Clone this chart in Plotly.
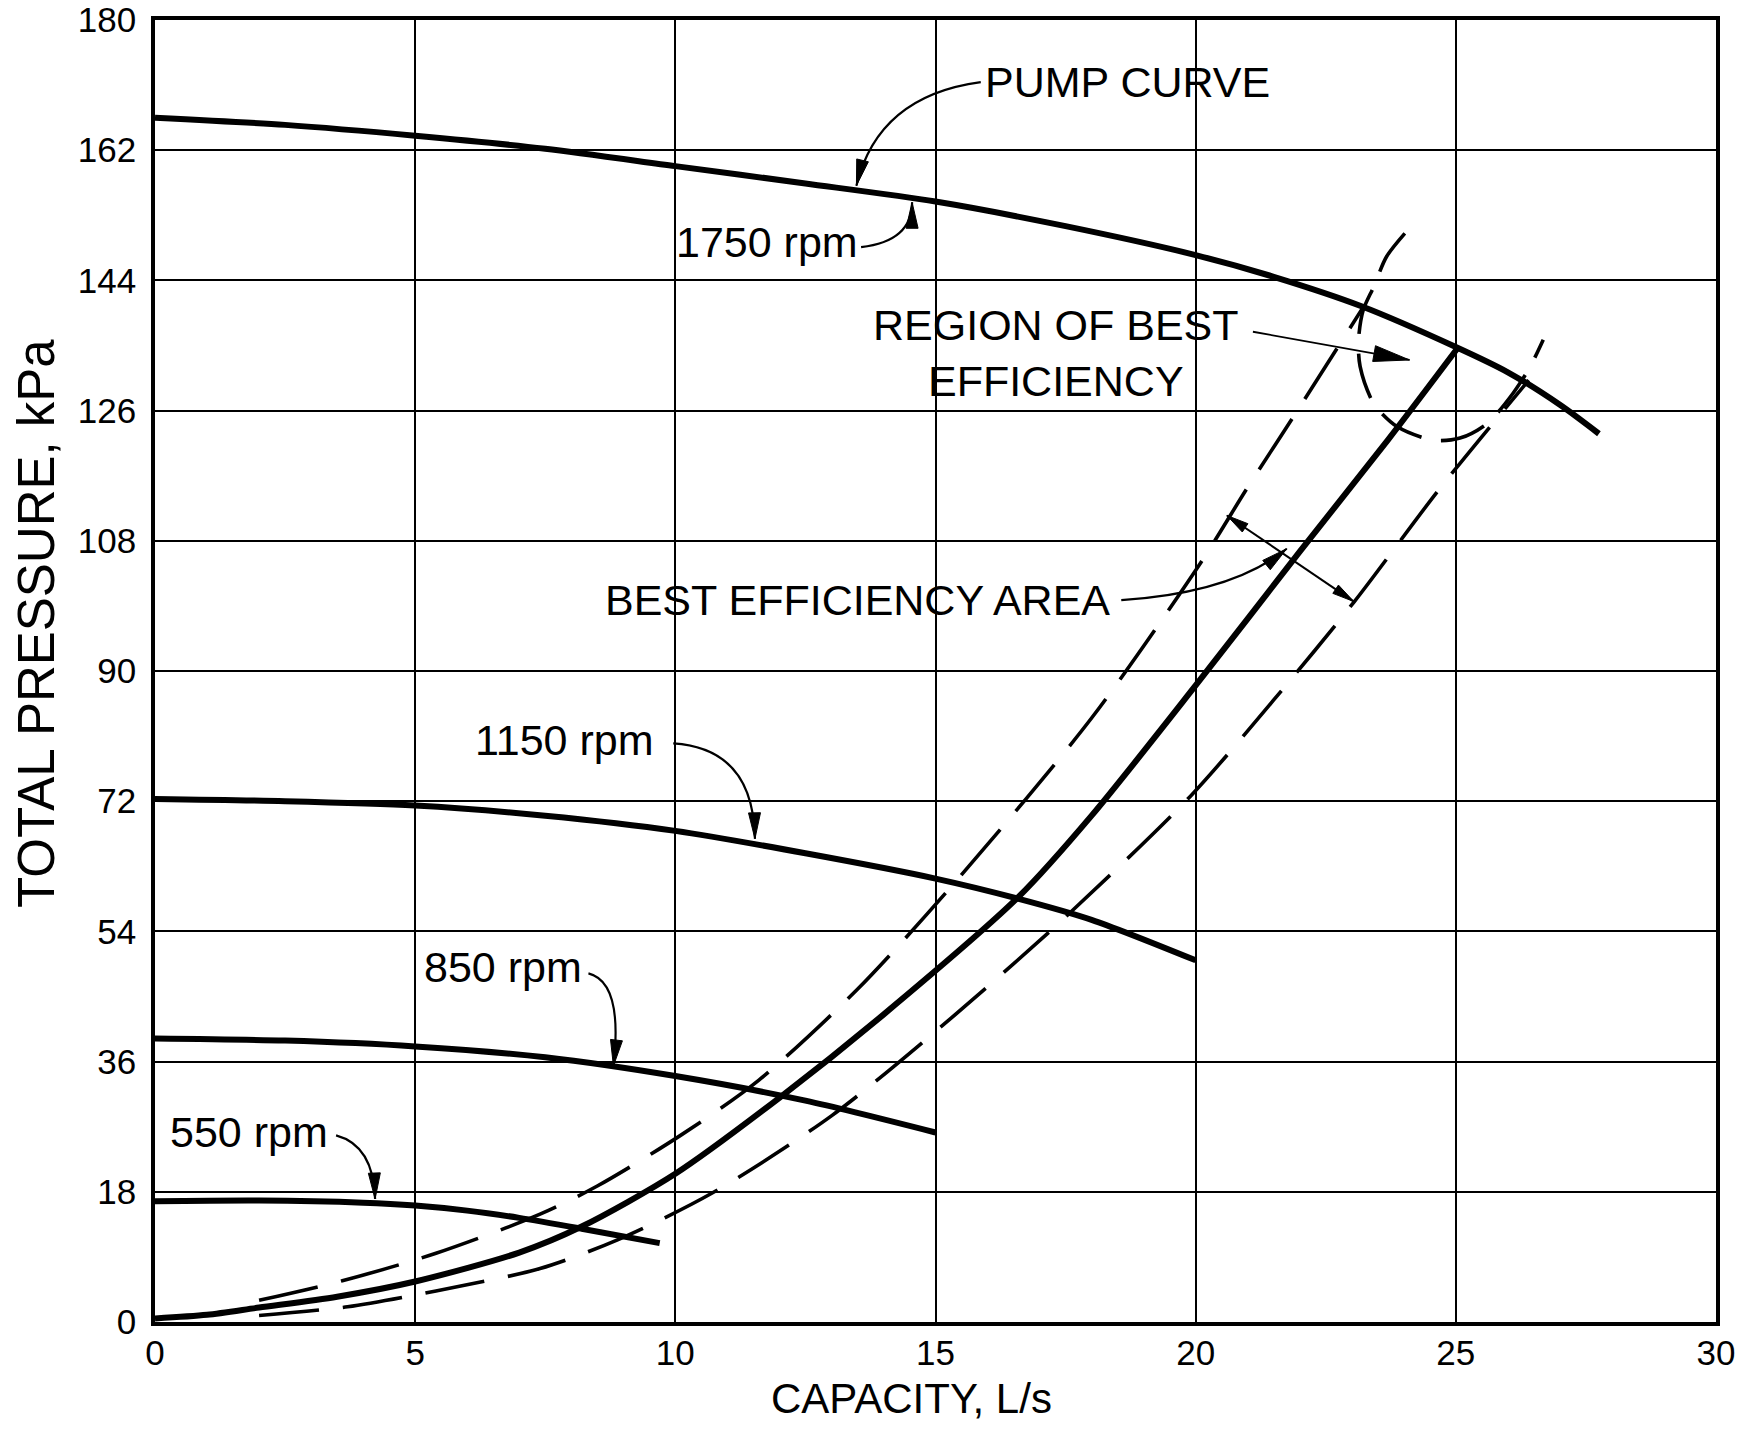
import math
import plotly.graph_objects as go

# ---------------- data ----------------
pump1750_q = [0, 2.5, 5, 7.5, 10, 12.5, 15, 17.5, 20, 21.5, 23.2, 25, 26, 27, 27.75]
pump1750_p = [166.5, 165.5, 164.0, 162.2, 159.8, 157.4, 154.9, 151.5, 147.5, 144.5, 140.4, 134.8, 131.3, 126.8, 122.8]

pump1150_q = [0, 2.5, 5, 7.5, 10, 12.5, 15, 16.6, 18, 20]
pump1150_p = [72.3, 72.0, 71.4, 70.0, 67.9, 64.8, 61.3, 58.5, 55.6, 50.0]

pump850_q = [0, 2.5, 5, 7.5, 10, 12.5, 15]
pump850_p = [39.2, 38.9, 38.1, 36.6, 34.0, 30.6, 26.2]

pump550_q = [0, 2, 4, 5, 6, 7, 8.2, 9.7]
pump550_p = [16.7, 16.8, 16.5, 16.1, 15.4, 14.4, 12.9, 10.9]

system_q = [0, 1, 2, 3.5, 5, 7, 8.2, 10, 12, 14, 16.6, 18, 20, 22, 23.7, 25.05]
system_p = [0.5, 1.0, 2.0, 3.5, 5.6, 9.6, 13.2, 20.5, 31.0, 42.5, 58.8, 70.0, 88.0, 106.5, 122.0, 134.8]

upper_q = [2, 3.6, 5.4, 7.4, 8.5, 10.1, 11.6, 13.5, 15.4, 18, 20.1, 21.0, 22.0, 23.22]
upper_p = [3.0, 5.7, 9.5, 14.9, 18.8, 25.8, 33.4, 46.0, 61.0, 83.5, 105.0, 115.4, 126.5, 140.3]

lower_q = [2, 3.7, 5.4, 7.4, 8.9, 10.7, 13.0, 15.3, 17.5, 19.9, 21.5, 23.05, 24.7, 26.4]
lower_p = [0.9, 2.1, 4.3, 7.4, 11.4, 17.8, 28.5, 42.0, 56.0, 72.7, 86.0, 99.6, 115.3, 130.2]

region_q = [24.02, 23.67, 23.42, 23.22, 23.13, 23.16, 23.42, 23.87, 24.57, 25.08, 25.6, 26.1, 26.43, 26.68]
region_p = [150.5, 147.3, 143.1, 139.9, 135.8, 132.1, 127.0, 123.8, 121.9, 122.2, 124.2, 128.4, 132.1, 135.8]

x_ticks = [0, 5, 10, 15, 20, 25, 30]
y_ticks = [0, 18, 36, 54, 72, 90, 108, 126, 144, 162, 180]

# ---------------- geometry ----------------
W, H = 1747, 1434
OFF = 8                      # page body margin of the html page
REF_L, REF_R, REF_T, REF_B = 155, 1716, 20, 1322   # plot box in the picture
ML, MT = REF_L - OFF, REF_T - OFF
MR, MB = OFF + W - REF_R, OFF + H - REF_B
PW, PH = W - ML - MR, H - MT - MB
XMAX, YMAX = 30, 180
SX, SY = PW / XMAX, PH / YMAX
FONT = "Liberation Sans, Arial, Helvetica, sans-serif"

fig = go.Figure()

def curve(q, p, width, dash="solid"):
    fig.add_trace(go.Scatter(x=q, y=p, mode="lines", showlegend=False, hoverinfo="skip",
                             line=dict(color="black", width=width, dash=dash,
                                       shape="spline", smoothing=0.8)))

curve(pump1750_q, pump1750_p, 6)
curve(pump1150_q, pump1150_p, 6)
curve(pump850_q, pump850_p, 6)
curve(pump550_q, pump550_p, 6)
curve(system_q, system_p, 6)
curve(upper_q, upper_p, 3.6, "60px,24px")
curve(lower_q, lower_p, 3.6, "60px,24px")
curve(region_q, region_p, 3.6, "46px,20px")

shapes = []
annotations = []

def head(tip, frm, L=26, hw=6):
    dx = (tip[0] - frm[0]) * SX
    dy = (tip[1] - frm[1]) * SY
    n = math.hypot(dx, dy)
    ux, uy = dx / n, dy / n
    bx, by = -ux * L, -uy * L
    px, py = -uy, ux
    p1 = (tip[0] + (bx + px * hw) / SX, tip[1] + (by + py * hw) / SY)
    p2 = (tip[0] + (bx - px * hw) / SX, tip[1] + (by - py * hw) / SY)
    shapes.append(dict(type="path", xref="x", yref="y", layer="above",
                       path=f"M {tip[0]},{tip[1]} L {p1[0]},{p1[1]} L {p2[0]},{p2[1]} Z",
                       fillcolor="black", line=dict(color="black", width=1)))

def curved_arrow(start, ctrl, tip):
    shapes.append(dict(type="path", xref="x", yref="y", layer="above",
                       path=f"M {start[0]},{start[1]} Q {ctrl[0]},{ctrl[1]} {tip[0]},{tip[1]}",
                       line=dict(color="black", width=2.2)))
    head(tip, ctrl)

def straight_arrow(start, tip, L=26, hw=6, width=2):
    shapes.append(dict(type="line", xref="x", yref="y", layer="above",
                       x0=start[0], y0=start[1], x1=tip[0], y1=tip[1],
                       line=dict(color="black", width=width)))
    head(tip, start, L, hw)

def label(text, x, y):
    annotations.append(dict(text=text, x=x, y=y, xref="x", yref="y", showarrow=False,
                            xanchor="center", yanchor="middle",
                            font=dict(family=FONT, size=43, color="black")))

label("PUMP CURVE", 18.69, 171.4)
curved_arrow((15.87, 171.4), (13.9, 169.5), (13.48, 157.1))

label("1750 rpm", 11.77, 149.3)
curved_arrow((13.57, 148.6), (14.55, 149.4), (14.55, 154.8))

label("REGION OF BEST<br>EFFICIENCY", 17.32, 134.0)
straight_arrow((21.1, 136.9), (24.11, 133.0), L=36, hw=8, width=1.8)

label("BEST EFFICIENCY AREA", 13.51, 99.8)
curved_arrow((18.57, 99.8), (20.7, 100.8), (21.75, 106.9))

# bracket across the best-efficiency band
b_up, b_lo = (20.6, 111.5), (23.04, 99.6)
shapes.append(dict(type="line", xref="x", yref="y", layer="above",
                   x0=b_up[0], y0=b_up[1], x1=b_lo[0], y1=b_lo[1],
                   line=dict(color="black", width=2)))
head(b_up, b_lo, L=22, hw=5)
head(b_lo, b_up, L=22, hw=5)

label("1150 rpm", 7.86, 80.5)
curved_arrow((9.96, 80.0), (11.5, 79.3), (11.53, 66.8))

label("850 rpm", 6.69, 49.1)
curved_arrow((8.33, 48.2), (9.0, 47.0), (8.81, 35.4))

label("550 rpm", 1.8, 26.2)
curved_arrow((3.48, 25.8), (4.2, 24.4), (4.23, 17.0))

# axis titles
annotations.append(dict(text="CAPACITY, L/s", xref="paper", yref="paper",
                        x=(911 - REF_L) / PW, y=(REF_B - 1398) / PH, showarrow=False,
                        xanchor="center", yanchor="middle",
                        font=dict(family=FONT, size=42, color="black")))
annotations.append(dict(text="TOTAL PRESSURE, kPa", xref="paper", yref="paper",
                        x=(37 - REF_L) / PW, y=(REF_B - 624) / PH, showarrow=False,
                        textangle=-90, xanchor="center", yanchor="middle",
                        font=dict(family=FONT, size=51, color="black")))

axis_common = dict(showgrid=True, gridcolor="black", gridwidth=2, zeroline=False,
                   showline=True, linecolor="black", linewidth=3.5, mirror=True,
                   ticks="", ticklabeloverflow="allow",
                   tickfont=dict(family=FONT, size=35, color="black"))

fig.update_layout(
    width=W, height=H,
    margin=dict(l=ML, r=MR, t=MT, b=MB, autoexpand=False),
    paper_bgcolor="white", plot_bgcolor="white",
    xaxis=dict(range=[0, XMAX], tickvals=x_ticks, ticklabelstandoff=-3, **axis_common),
    yaxis=dict(range=[0, YMAX], tickvals=y_ticks, ticklabelstandoff=8, **axis_common),
    shapes=shapes, annotations=annotations,
)

fig.write_html("out.html")
